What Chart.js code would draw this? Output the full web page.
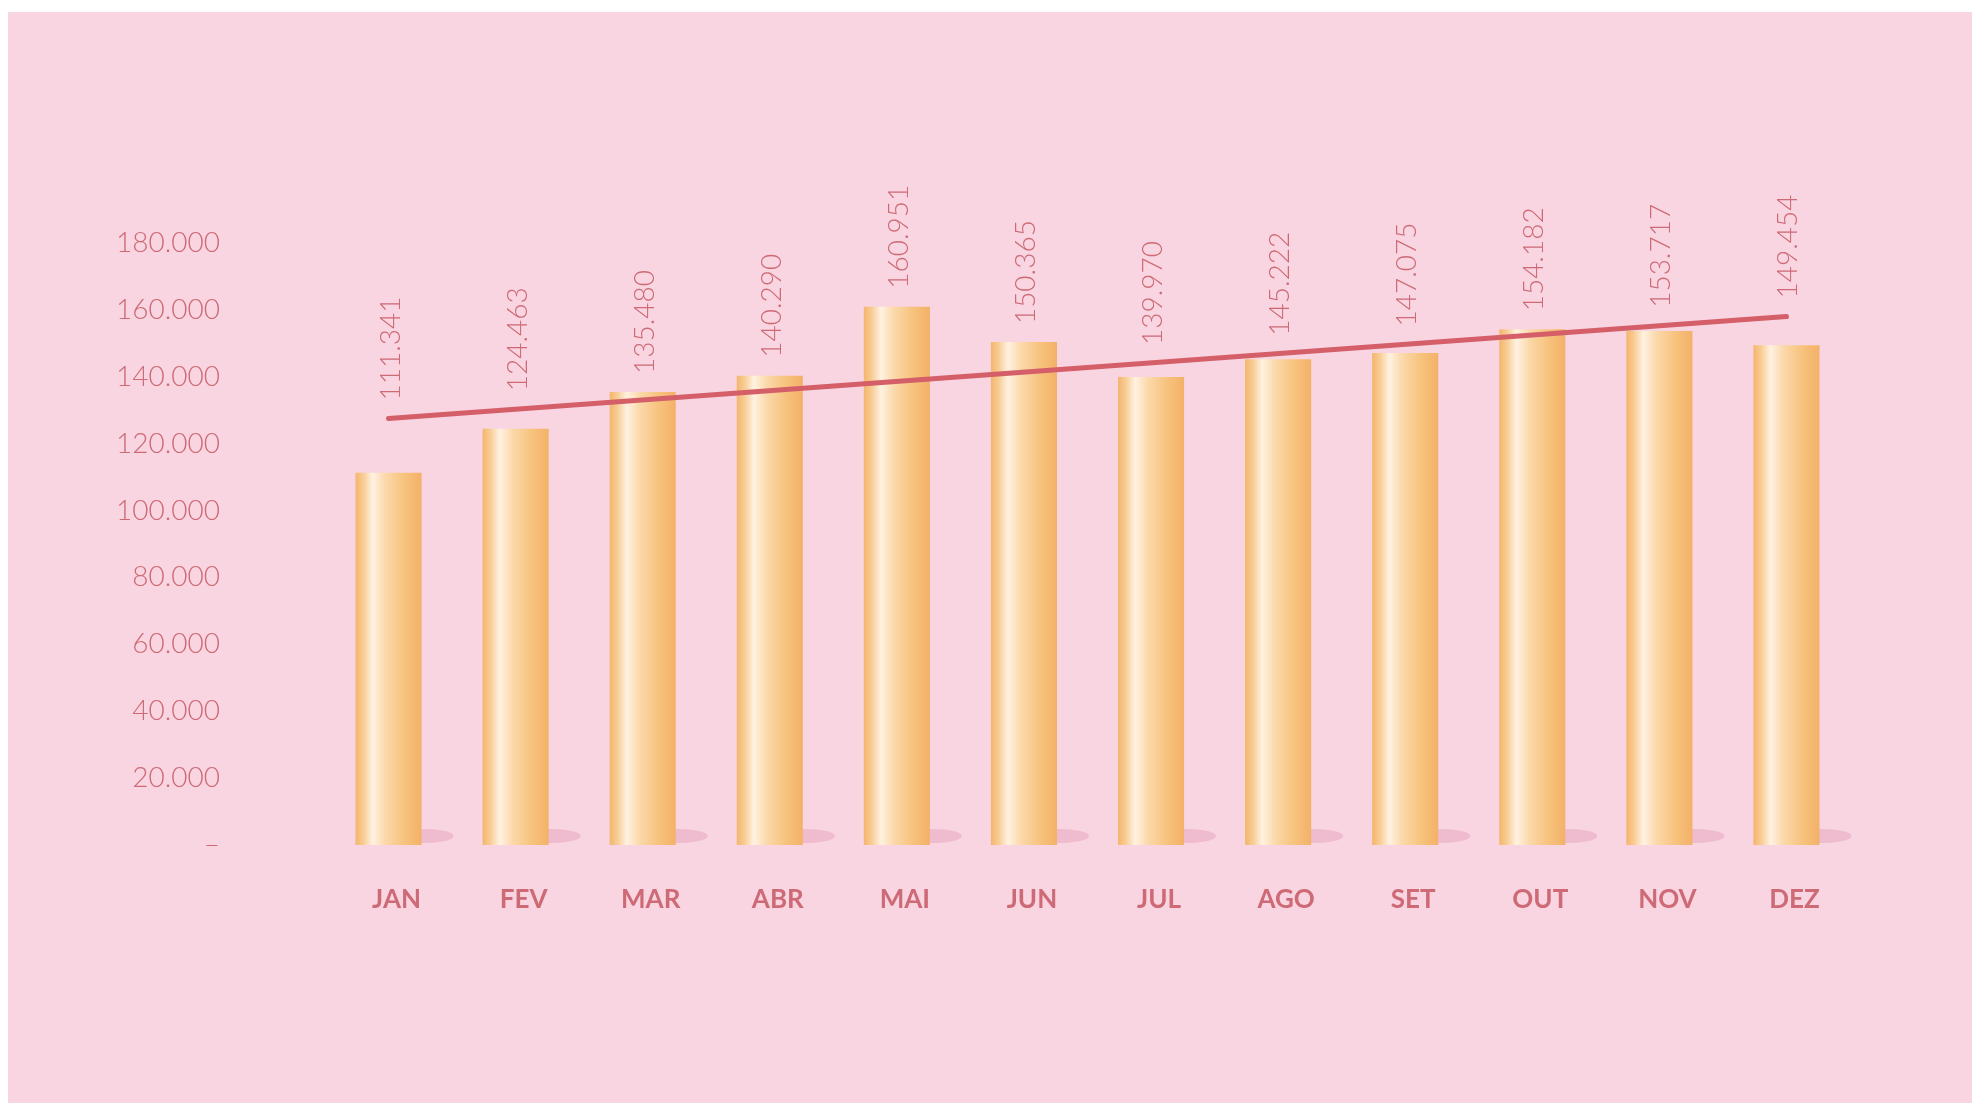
<!DOCTYPE html>
<html>
<head>
<meta charset="utf-8">
<script src="https://cdn.jsdelivr.net/npm/chart.js@4.4.1/dist/chart.umd.min.js"></script>
<style>
  html, body { margin: 0; padding: 0; background: #ffffff; }
  #wrap { position: absolute; left: 8px; top: 12px; width: 1964px; height: 1091px; background: #f8d5e0; }
  #c { position: absolute; left: -8px; top: -12px; }
</style>
</head>
<body>
<div id="wrap"><canvas id="c" width="1972" height="1103"></canvas></div>
<script>
var months = ["JAN","FEV","MAR","ABR","MAI","JUN","JUL","AGO","SET","OUT","NOV","DEZ"];
var values = [111341,124463,135480,140290,160951,150365,139970,145222,147075,154182,153717,149454];
// trend line: start and end only
var trend = [127500,null,null,null,null,null,null,null,null,null,null,158000];
var yTicks = [0,20000,40000,60000,80000,100000,120000,140000,160000,180000];

var txtColor = "#cd6a76";

function fmt(v) {
  if (v === 0) return "–";
  var s = String(Math.round(v));
  return s.replace(/\B(?=(\d{3})+(?!\d))/g, ".");
}

function barFill(ctx) {
  var chart = ctx.chart;
  var area = chart.chartArea;
  if (!area) return "#f6bd74";
  var xs = chart.scales.x;
  var cx = xs.getPixelForValue(ctx.dataIndex);
  var w = (area.right - area.left) / months.length * 0.52;
  var g = chart.ctx.createLinearGradient(cx - w / 2, 0, cx + w / 2, 0);
  g.addColorStop(0, "#f4b56c");
  g.addColorStop(0.12, "#f8cd95");
  g.addColorStop(0.26, "#fff2e2");
  g.addColorStop(0.45, "#fbd9ab");
  g.addColorStop(0.75, "#f7c27c");
  g.addColorStop(1, "#f3b168");
  return g;
}

var shadowPlugin = {
  id: "shadows",
  beforeDatasetsDraw: function (chart) {
    var meta = chart.getDatasetMeta(1);
    var c = chart.ctx;
    c.save();
    c.fillStyle = "rgba(234,170,194,0.6)";
    meta.data.forEach(function (el) {
      var w = el.width;
      c.beginPath();
      c.ellipse(el.x + w / 2 + 2, el.base - 9, 30, 7, 0, 0, Math.PI * 2);
      c.fill();
    });
    c.restore();
  }
};

var labelPlugin = {
  id: "valueLabels",
  afterDatasetsDraw: function (chart) {
    var bars = chart.getDatasetMeta(1).data;
    var line = chart.getDatasetMeta(0).data;
    var p0 = line[0], p1 = line[line.length - 1];
    var c = chart.ctx;
    c.save();
    c.fillStyle = txtColor;
    c.font = "300 28px Lato";
    c.textAlign = "left";
    c.textBaseline = "middle";
    bars.forEach(function (el, i) {
      var ly = p0.y + (p1.y - p0.y) * (el.x - p0.x) / (p1.x - p0.x);
      var y = Math.min(el.y, ly) - 18;
      c.save();
      c.translate(el.x + 2, y);
      c.rotate(-Math.PI / 2);
      c.fillText(fmt(values[i]), 0, 0);
      c.restore();
    });
    c.restore();
  }
};

var chart = new Chart(document.getElementById("c"), {
  data: {
    labels: months,
    datasets: [
      {
        type: "line",
        data: trend,
        spanGaps: true,
        borderColor: "#d45f69",
        borderWidth: 5,
        borderCapStyle: "round",
        pointRadius: 0,
        tension: 0,
        order: 0
      },
      {
        type: "bar",
        data: values,
        backgroundColor: barFill,
        borderWidth: 0,
        categoryPercentage: 1,
        barPercentage: 0.52,
        order: 1
      }
    ]
  },
  options: {
    responsive: false,
    animation: false,
    devicePixelRatio: 1,
    layout: { padding: { left: 0, right: 122, top: 243, bottom: 0 } },
    plugins: { legend: { display: false }, tooltip: { enabled: false } },
    scales: {
      x: {
        grid: { display: false, drawTicks: false },
        border: { display: false },
        ticks: {
          color: txtColor,
          font: { family: "Lato", size: 26, weight: "bold" },
          padding: 39,
          labelOffset: 8,
          maxRotation: 0
        },
        afterFit: function (s) { s.height = 258; }
      },
      y: {
        min: 0,
        max: 180000,
        grid: { display: false, drawTicks: false },
        border: { display: false },
        afterBuildTicks: function (s) { s.ticks = yTicks.map(function (v) { return { value: v }; }); },
        ticks: {
          color: txtColor,
          font: { family: "Lato", size: 28, weight: "300" },
          padding: 105,
          callback: function (v) { return fmt(v); }
        },
        afterFit: function (s) { s.width = 325; }
      }
    }
  },
  plugins: [shadowPlugin, labelPlugin]
});
</script>
</body>
</html>
